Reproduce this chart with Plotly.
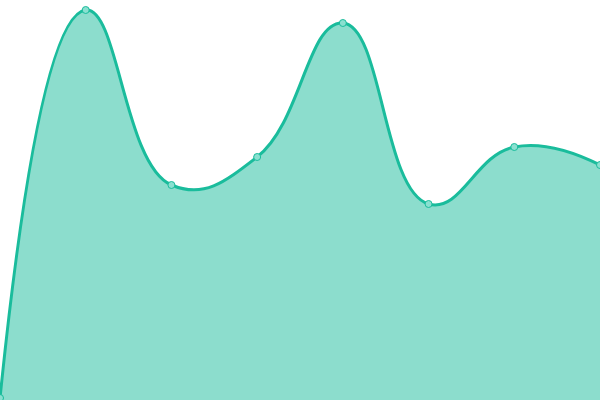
import plotly.graph_objects as go

x_vals = [0, 1, 2, 3, 4, 5, 6, 7]
y_vals = [2, 390, 215, 243, 377, 196, 253, 235]

fig = go.Figure()
fig.add_trace(go.Scatter(
    x=x_vals, y=y_vals,
    mode="lines+markers",
    line=dict(color="#1abc9c", width=3, shape="spline", smoothing=1.3),
    fill="tozeroy",
    fillcolor="rgba(26,188,156,0.5)",
    marker=dict(size=7, color="#8ae0d0", line=dict(color="#1abc9c", width=1)),
    hoverinfo="skip",
))
fig.update_layout(
    width=600, height=400,
    margin=dict(l=0, r=0, t=0, b=0),
    paper_bgcolor="white", plot_bgcolor="white",
    showlegend=False,
    xaxis=dict(range=[0, 7], visible=False, fixedrange=True),
    yaxis=dict(range=[0, 400], visible=False, fixedrange=True),
)
fig.write_html(
    "out.html",
    config={"displayModeBar": False},
    post_script="document.body.style.margin='0';document.body.style.overflow='hidden';",
)
